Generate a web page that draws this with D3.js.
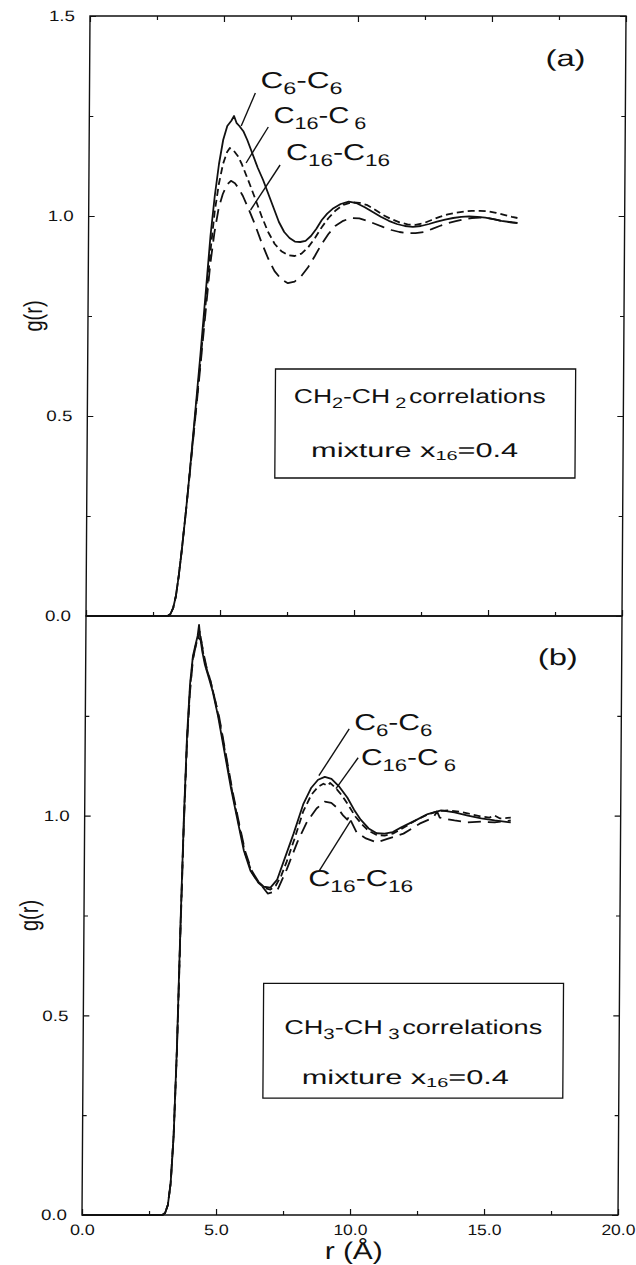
<!DOCTYPE html>
<html>
<head>
<meta charset="utf-8">
<script src="https://cdn.jsdelivr.net/npm/d3@7"></script>
<style>
  body { margin: 0; background: #fff; }
  svg { display: block; }
  text { font-family: "Liberation Sans", Arial, Helvetica, sans-serif; fill: #111; }
</style>
</head>
<body>
<svg id="chart" width="636" height="1265"></svg>
<script>
// ---------------- DATA ----------------
const xDomain = [0, 20];
const yDomain = [0, 1.5];
const xMajorTicks = [0, 5, 10, 15, 20];
const xMinorTicks = [2.5, 7.5, 12.5, 17.5];
const xTickLabels = ["0.0", "5.0", "10.0", "15.0", "20.0"];
const yMajorTicks = [0, 0.5, 1.0, 1.5];
const yMinorTicks = [0.25, 0.75, 1.25];
const yTickLabelsA = ["0.0", "0.5", "1.0", "1.5"];
const yTickLabelsB = ["0.0", "0.5", "1.0", ""];
const seriesNames = ["C6-C6", "C16-C6", "C16-C16"];

// panel (a): CH2-CH2 correlations, [r (Å), g(r)]
const a_C6C6 = [[0,0],[3.05,0],[3.15,0.005],[3.25,0.02],[3.35,0.05],[3.45,0.1],[3.55,0.16],[3.7,0.26],[3.85,0.37],[4.0,0.49],[4.2,0.65],[4.4,0.82],[4.55,0.95],[4.7,1.05],[4.85,1.13],[5.0,1.19],[5.15,1.225],[5.3,1.238],[5.4,1.25],[5.5,1.232],[5.6,1.225],[5.75,1.212],[5.9,1.19],[6.1,1.155],[6.3,1.12],[6.5,1.09],[6.7,1.055],[6.9,1.02],[7.1,0.985],[7.3,0.96],[7.5,0.945],[7.7,0.936],[7.9,0.935],[8.1,0.938],[8.3,0.95],[8.5,0.968],[8.7,0.99],[8.9,1.006],[9.1,1.018],[9.4,1.03],[9.7,1.036],[10.0,1.032],[10.3,1.022],[10.6,1.01],[10.9,0.998],[11.2,0.988],[11.5,0.98],[11.8,0.975],[12.1,0.973],[12.4,0.975],[12.7,0.98],[13.0,0.986],[13.3,0.991],[13.6,0.995],[13.9,0.998],[14.2,0.999],[14.5,0.998],[14.8,0.996],[15.1,0.992],[15.4,0.988],[15.7,0.985],[16.0,0.982]];
const a_C16C6 = [[0,0],[3.05,0],[3.15,0.005],[3.25,0.02],[3.35,0.05],[3.45,0.1],[3.55,0.16],[3.7,0.26],[3.85,0.37],[4.0,0.48],[4.2,0.63],[4.4,0.79],[4.55,0.91],[4.7,1.01],[4.85,1.08],[5.0,1.13],[5.15,1.16],[5.25,1.17],[5.4,1.163],[5.55,1.15],[5.7,1.13],[5.85,1.105],[6.0,1.08],[6.2,1.045],[6.45,1.0],[6.7,0.96],[6.95,0.93],[7.2,0.912],[7.45,0.902],[7.7,0.9],[7.95,0.906],[8.2,0.922],[8.45,0.945],[8.7,0.972],[8.95,0.995],[9.2,1.013],[9.5,1.028],[9.8,1.034],[10.1,1.033],[10.4,1.027],[10.7,1.015],[11.0,1.002],[11.3,0.992],[11.6,0.984],[11.9,0.979],[12.2,0.978],[12.5,0.982],[12.8,0.99],[13.1,0.998],[13.4,1.004],[13.7,1.008],[14.0,1.011],[14.3,1.013],[14.6,1.013],[14.9,1.012],[15.2,1.008],[15.5,1.003],[15.8,0.998],[16.0,0.995]];
const a_C16C16 = [[0,0],[3.05,0],[3.15,0.005],[3.25,0.02],[3.35,0.05],[3.45,0.1],[3.55,0.16],[3.7,0.26],[3.85,0.365],[4.0,0.475],[4.2,0.62],[4.4,0.77],[4.55,0.88],[4.7,0.96],[4.85,1.02],[5.0,1.055],[5.15,1.078],[5.3,1.088],[5.45,1.082],[5.6,1.068],[5.75,1.05],[5.95,1.02],[6.2,0.98],[6.45,0.935],[6.7,0.895],[6.95,0.862],[7.2,0.842],[7.45,0.832],[7.7,0.836],[7.95,0.85],[8.2,0.872],[8.45,0.9],[8.7,0.93],[8.95,0.955],[9.2,0.975],[9.5,0.988],[9.8,0.995],[10.1,0.994],[10.4,0.988],[10.7,0.98],[11.0,0.972],[11.3,0.965],[11.6,0.96],[11.9,0.957],[12.2,0.957],[12.5,0.96],[12.8,0.967],[13.1,0.975],[13.4,0.982],[13.7,0.987],[14.0,0.992],[14.3,0.995],[14.6,0.996],[14.9,0.995],[15.2,0.991],[15.5,0.986],[15.8,0.984],[16.0,0.983]];

// panel (b): CH3-CH3 correlations, [r (Å), g(r)]
const b_C6C6 = [[0,0],[3.0,0],[3.1,0.005],[3.2,0.025],[3.3,0.08],[3.4,0.2],[3.5,0.42],[3.6,0.72],[3.7,0.99],[3.8,1.2],[3.9,1.33],[4.0,1.4],[4.1,1.43],[4.17,1.45],[4.22,1.478],[4.27,1.445],[4.35,1.41],[4.45,1.378],[4.6,1.345],[4.75,1.31],[4.95,1.25],[5.2,1.16],[5.45,1.07],[5.7,0.99],[5.95,0.912],[6.2,0.862],[6.45,0.837],[6.7,0.822],[6.95,0.82],[7.2,0.84],[7.45,0.888],[7.8,0.955],[8.15,1.028],[8.45,1.07],[8.7,1.09],[8.95,1.097],[9.2,1.092],[9.5,1.072],[9.8,1.045],[10.05,1.015],[10.3,0.99],[10.6,0.968],[10.9,0.956],[11.2,0.955],[11.5,0.959],[11.8,0.97],[12.1,0.98],[12.4,0.99],[12.8,1.004],[13.3,1.013],[13.8,1.008],[14.3,1.0],[14.8,0.993],[15.3,0.988],[15.9,0.983]];
const b_C16C6 = [[0,0],[3.0,0],[3.1,0.005],[3.2,0.025],[3.3,0.08],[3.4,0.2],[3.5,0.41],[3.6,0.71],[3.7,0.98],[3.8,1.19],[3.9,1.32],[4.0,1.395],[4.1,1.425],[4.2,1.45],[4.25,1.46],[4.3,1.44],[4.4,1.4],[4.5,1.37],[4.65,1.34],[4.8,1.3],[5.0,1.24],[5.25,1.15],[5.5,1.06],[5.75,0.98],[6.0,0.905],[6.25,0.858],[6.5,0.832],[6.75,0.818],[6.95,0.815],[7.15,0.825],[7.35,0.85],[7.55,0.885],[7.85,0.945],[8.15,1.01],[8.45,1.052],[8.7,1.072],[8.9,1.08],[9.05,1.075],[9.15,1.082],[9.35,1.07],[9.6,1.05],[9.85,1.025],[10.1,0.998],[10.35,0.978],[10.6,0.962],[10.9,0.952],[11.2,0.95],[11.5,0.955],[11.8,0.966],[12.1,0.978],[12.4,0.99],[12.8,1.003],[13.2,1.012],[13.6,1.013],[14.0,1.01],[14.4,1.004],[14.8,0.998],[15.1,0.995],[15.3,1.0],[15.5,0.993],[15.9,0.995]];
const b_C16C16 = [[0,0],[3.0,0],[3.1,0.005],[3.2,0.025],[3.3,0.08],[3.4,0.2],[3.5,0.41],[3.6,0.7],[3.7,0.97],[3.8,1.18],[3.9,1.31],[4.0,1.39],[4.1,1.425],[4.2,1.445],[4.3,1.44],[4.4,1.405],[4.5,1.375],[4.65,1.34],[4.8,1.3],[5.0,1.245],[5.25,1.155],[5.5,1.065],[5.75,0.985],[6.0,0.91],[6.25,0.862],[6.5,0.835],[6.85,0.805],[7.2,0.812],[7.55,0.865],[7.95,0.935],[8.3,0.985],[8.65,1.018],[8.95,1.035],[9.2,1.032],[9.45,1.018],[9.65,1.0],[9.8,0.99],[9.88,1.0],[9.95,0.985],[10.15,0.958],[10.5,0.943],[10.9,0.933],[11.3,0.942],[11.9,0.955],[12.5,0.98],[13.0,0.995],[13.15,1.01],[13.25,0.995],[13.8,0.988],[14.3,0.983],[14.8,0.985],[15.3,0.983],[15.9,0.988]];

// ---------------- DRAW ----------------
const svg = d3.select("#chart");
// the printed figure is slightly sheared (left frame edge drifts ~8px from top to bottom)
const root = svg.append("g").attr("transform", "translate(0,616) skewX(-0.382) translate(0,-616)");
const x = d3.scaleLinear().domain(xDomain).range([86, 622]);
const panels = [
  { key: "a", y: d3.scaleLinear().domain(yDomain).range([616, 16]), series: [a_C6C6, a_C16C6, a_C16C16], ylab: yTickLabelsA },
  { key: "b", y: d3.scaleLinear().domain(yDomain).range([1215, 616]), series: [b_C6C6, b_C16C6, b_C16C16], ylab: yTickLabelsB }
];
const dashes = [null, "7,4", "13,7"];
const ink = "#111";

function styleAxis(g) {
  g.select(".domain").remove();
  g.selectAll(".tick line").attr("stroke", ink).attr("stroke-width", 1.2);
  g.selectAll("text").attr("font-size", 15).attr("fill", ink)
    .style("font-family", '"Liberation Sans", Arial, sans-serif');
}

panels.forEach((p, pi) => {
  const y = p.y;
  const y0 = y.range()[0], y1 = y.range()[1];
  // left axis
  const gl = root.append("g").attr("transform", `translate(${x.range()[0]},0)`)
    .call(d3.axisLeft(y).tickValues(yMajorTicks).tickSize(-6).tickPadding(15)
      .tickFormat((d, i) => p.ylab[i]));
  styleAxis(gl);
  gl.selectAll("text").each(function () {
    const t = d3.select(this);
    if (t.text().length) t.attr("textLength", 26).attr("lengthAdjust", "spacingAndGlyphs");
  });
  const glm = root.append("g").attr("transform", `translate(${x.range()[0]},0)`)
    .call(d3.axisLeft(y).tickValues(yMinorTicks).tickSize(-4).tickFormat(""));
  styleAxis(glm);
  // right axis
  [[yMajorTicks, -6], [yMinorTicks, -4]].forEach(([tv, ts]) => {
    const gr = root.append("g").attr("transform", `translate(${x.range()[1]},0)`)
      .call(d3.axisRight(y).tickValues(tv).tickSize(ts).tickFormat(""));
    styleAxis(gr);
  });
  // top axis (panel a only)
  if (pi === 0) {
    [[xMajorTicks, -6], [xMinorTicks, -4]].forEach(([tv, ts]) => {
      const gt = root.append("g").attr("transform", `translate(0,${y1})`)
        .call(d3.axisTop(x).tickValues(tv).tickSize(ts).tickFormat(""));
      styleAxis(gt);
    });
  }
  // bottom axis
  const gb = root.append("g").attr("transform", `translate(0,${y0})`)
    .call(d3.axisBottom(x).tickValues(xMajorTicks).tickSize(-6).tickPadding(9)
      .tickFormat((d, i) => pi === 1 ? xTickLabels[i] : ""));
  styleAxis(gb);
  gb.selectAll("text").each(function () {
    const t = d3.select(this); const s = t.text();
    if (s.length) t.attr("textLength", s.length === 3 ? 25 : 34).attr("lengthAdjust", "spacingAndGlyphs");
  });
  const gbm = root.append("g").attr("transform", `translate(0,${y0})`)
    .call(d3.axisBottom(x).tickValues(xMinorTicks).tickSize(-4).tickFormat(""));
  styleAxis(gbm);

  // frame
  root.append("rect")
    .attr("x", x.range()[0]).attr("y", y1)
    .attr("width", x.range()[1] - x.range()[0]).attr("height", y0 - y1)
    .attr("fill", "none").attr("stroke", ink).attr("stroke-width", 1.4);

  // curves
  const line = d3.line().x(d => x(d[0])).y(d => y(d[1])).curve(d3.curveLinear);
  p.series.forEach((s, si) => {
    root.append("path").datum(s)
      .attr("d", line)
      .attr("fill", "none").attr("stroke", ink).attr("stroke-width", 1.8)
      .attr("stroke-linejoin", "round")
      .attr("stroke-dasharray", dashes[si]);
  });

  // y title (glyphs widened across the axis like the printed figure)
  root.append("text")
    .attr("transform", `translate(40,${(y0 + y1) / 2}) rotate(-90) scale(1,1.3)`)
    .attr("text-anchor", "middle").attr("font-size", 20)
    .text("g(r)");
});

// ---------- annotations (in data units) ----------
const yA = panels[0].y, yB = panels[1].y;
function richText(px, py, parts, size, subSize, subShift, len) {
  const t = root.append("text").attr("x", px).attr("y", py).attr("font-size", size);
  let sub = false;
  parts.forEach(pt => {
    const ts = t.append("tspan").text(pt.t);
    if (pt.sub && !sub) { ts.attr("dy", subShift).attr("font-size", subSize); sub = true; }
    else if (pt.sub && sub) { ts.attr("font-size", subSize); }
    else if (!pt.sub && sub) { ts.attr("dy", -subShift); sub = false; }
    if (pt.dx) ts.attr("dx", pt.dx);
  });
  if (len) t.attr("textLength", len).attr("lengthAdjust", "spacingAndGlyphs");
  return t;
}
const lblC6C6 = [{t:"C"},{t:"6",sub:1},{t:"-C"},{t:"6",sub:1}];
const lblC16C6 = [{t:"C"},{t:"16",sub:1},{t:"-C"},{t:"6",sub:1,dx:4}];
const lblC16C16 = [{t:"C"},{t:"16",sub:1},{t:"-C"},{t:"16",sub:1}];

// pointer lines: [r1,g1,r2,g2]
const pointersA = [[5.67,1.225,6.19,1.3075],[5.86,1.1325,6.68,1.2225],[6.04,1.015,7.13,1.1275]];
const pointersB = [[8.73,1.10,9.85,1.2175],[9.37,1.0675,10.19,1.145],[9.93,0.9875,8.77,0.8625]];
pointersA.forEach(d => root.append("line").attr("x1", x(d[0])).attr("y1", yA(d[1])).attr("x2", x(d[2])).attr("y2", yA(d[3])).attr("stroke", ink).attr("stroke-width", 1.4));
pointersB.forEach(d => root.append("line").attr("x1", x(d[0])).attr("y1", yB(d[1])).attr("x2", x(d[2])).attr("y2", yB(d[3])).attr("stroke", ink).attr("stroke-width", 1.4));

richText(x(6.38), yA(1.32), lblC6C6, 23, 17, 6, 82);
richText(x(6.87), yA(1.2325), lblC16C6, 23, 17, 6, 93);
richText(x(7.35), yA(1.14), lblC16C16, 23, 17, 6, 104);
richText(x(10.04), yB(1.215), lblC6C6, 23, 17, 6, 78);
richText(x(10.3), yB(1.1275), lblC16C6, 23, 17, 6, 95);
richText(x(8.36), yB(0.825), lblC16C16, 23, 17, 6, 105);

// panel letters
richText(x(17.01), yA(1.375), [{t:"(a)"}], 23, 16, 0, 40);
richText(x(16.87), yB(1.3775), [{t:"(b)"}], 23, 16, 0, 40);

// legend boxes: [r1, g1, r2, g2]
const boxA = [7.01, 0.6175, 18.21, 0.345];
const boxB = [6.72, 0.58, 17.91, 0.2925];
root.append("rect").attr("x", x(boxA[0])).attr("y", yA(boxA[1]))
  .attr("width", x(boxA[2]) - x(boxA[0])).attr("height", yA(boxA[3]) - yA(boxA[1]))
  .attr("fill", "#fff").attr("stroke", ink).attr("stroke-width", 1.3);
root.append("rect").attr("x", x(boxB[0])).attr("y", yB(boxB[1]))
  .attr("width", x(boxB[2]) - x(boxB[0])).attr("height", yB(boxB[3]) - yB(boxB[1]))
  .attr("fill", "#fff").attr("stroke", ink).attr("stroke-width", 1.3);

richText(x(7.7), yA(0.5325), [{t:"CH"},{t:"2",sub:1},{t:"-CH"},{t:"2",sub:1,dx:4},{t:"correlations",dx:2}], 20, 15, 5, 252);
richText(x(8.36), yA(0.3975), [{t:"mixture x"},{t:"16",sub:1},{t:"=0.4"}], 20, 13, 3, 207);
richText(x(7.5), yB(0.4525), [{t:"CH"},{t:"3",sub:1},{t:"-CH"},{t:"3",sub:1,dx:4},{t:"correlations",dx:2}], 20, 15, 5, 258);
richText(x(8.17), yB(0.3275), [{t:"mixture x"},{t:"16",sub:1},{t:"=0.4"}], 20, 13, 3, 207);

// x title
root.append("text").attr("x", 358).attr("y", 1259).attr("text-anchor", "middle")
  .attr("font-size", 24).attr("textLength", 58).attr("lengthAdjust", "spacingAndGlyphs")
  .text("r (Å)");
</script>
</body>
</html>
